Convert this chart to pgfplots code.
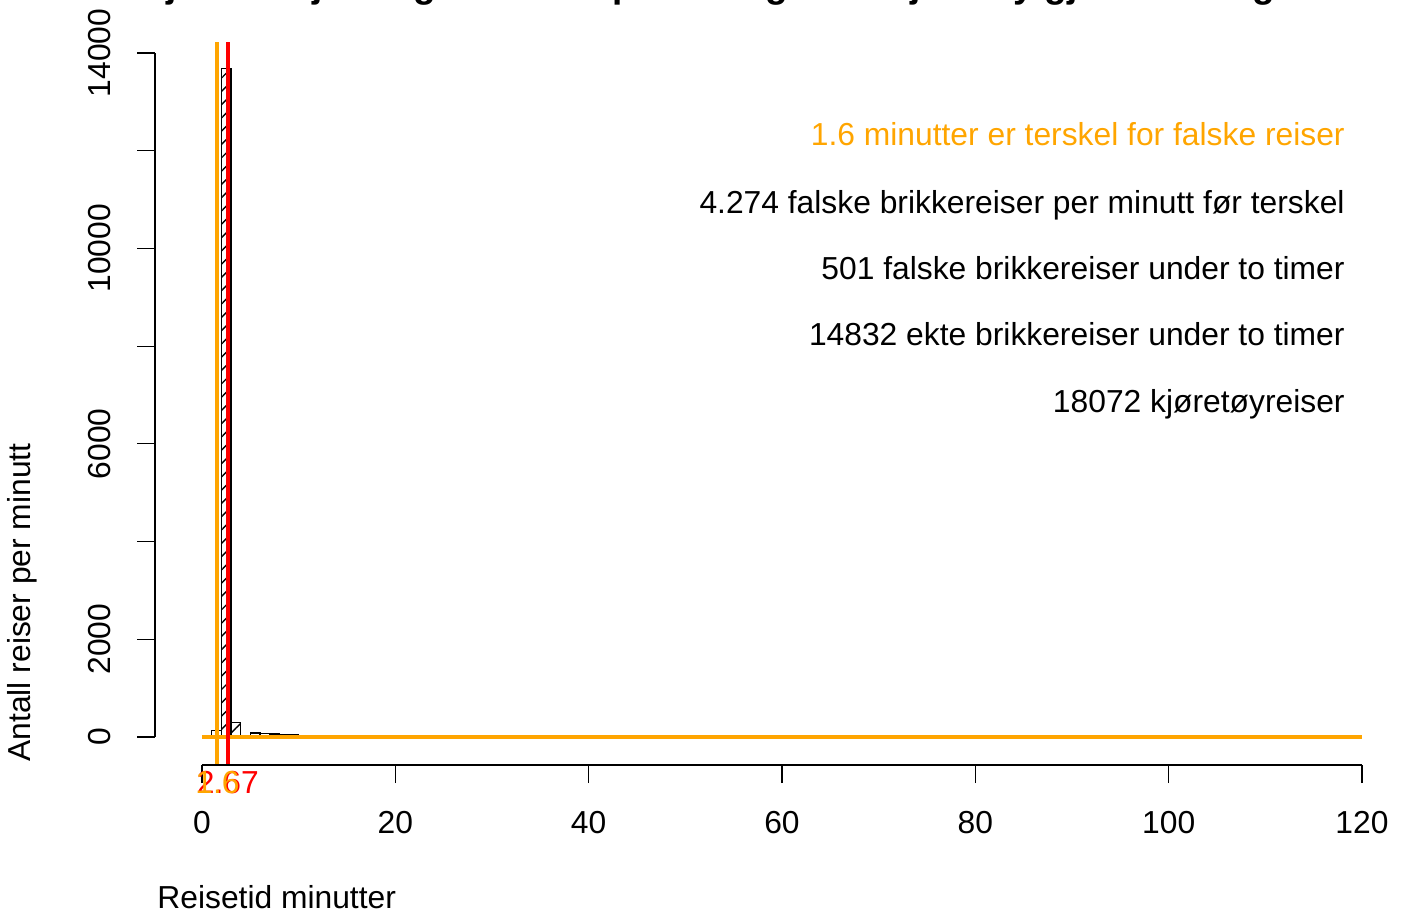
\documentclass[border=0pt]{standalone}
\usepackage{pgfplots}
\pgfplotsset{compat=1.18}
\usepackage{fontspec}
\setmainfont{Liberation Sans}
\usetikzlibrary{patterns.meta}
\definecolor{rorange}{HTML}{FFA500}
\definecolor{rred}{HTML}{FF0000}
\begin{document}
\begin{tikzpicture}[font=\fontsize{15.9pt}{18pt}\selectfont]
\useasboundingbox (0,0) rectangle (701.5pt,455.5pt);
\begin{axis}[
  at={(77.5pt,73pt)}, anchor=south west,
  scale only axis, width=603.5pt, height=361.5pt,
  xmin=-4.86, xmax=120, ymin=-573, ymax=14225,
  axis line style={draw=none},
  clip=false,
  scaled ticks=false,
  xtick={0,20,...,120}, xticklabels={0,20,40,60,80,100,120},
  ytick={0,2000,...,14000}, yticklabels={0,2000,,6000,,10000,,14000},
  xtick pos=left, ytick pos=left,
  tick align=outside, major tick length=9pt,
  tick style={line width=0.6pt, black},
  tick label style={font=\fontsize{15.9pt}{18pt}\selectfont},
  xticklabel style={anchor=north, inner sep=0pt},
  yticklabel style={rotate=90, anchor=south, inner sep=0pt},
  xticklabel shift=14pt, yticklabel shift=13pt,
]
% histogram bars
\addplot[ybar interval, draw=black, line width=0.6pt, fill=none] coordinates {(1,140) (2,140)};
\addplot[ybar interval, draw=black, line width=0.6pt, pattern={Lines[angle=45,distance=4.7pt,line width=0.7pt]}, pattern color=black] coordinates {(2,13680) (3,300) (4,300)};
\addplot[ybar interval, draw=black, line width=0.6pt, fill=none] coordinates {
(4,10) (5,80) (6,75) (7,60) (8,50) (9,42) (10,36) (11,32) (12,28) (13,25) (14,22)
(15,20) (16,18) (17,16) (18,15) (19,14) (20,13) (21,12) (22,11) (23,10) (24,9)
(25,8) (26,7) (27,6) (28,5) (29,5) (30,5)};
% horizontal threshold line
\addplot[rorange, line width=2pt] coordinates {(0,4.274) (120,4.274)};
% vertical lines
\addplot[rred, line width=2pt] coordinates {(2.67,-573) (2.67,14225)};
\addplot[rorange, line width=2pt] coordinates {(1.6,-573) (1.6,14225)};
% R-style axis lines
\draw[line width=0.6pt] (axis cs:0,-573) -- (axis cs:120,-573);
\draw[line width=0.6pt] (axis cs:-4.86,0) -- (axis cs:-4.86,14000);
% value labels under the axis
\node[rred, anchor=base, inner sep=0pt] at (axis cs:2.67,-1158) {2.67};
\node[rorange, anchor=base, inner sep=0pt] at (axis cs:1.6,-1158) {1.6};
% annotations
\node[rorange, anchor=base east, inner sep=0pt] at (axis cs:118.24,12097) {1.6 minutter er terskel for falske reiser};
\node[anchor=base east, inner sep=0pt] at (axis cs:118.24,10725) {4.274 falske brikkereiser per minutt før terskel};
\node[anchor=base east, inner sep=0pt] at (axis cs:118.24,9354) {501 falske brikkereiser under to timer};
\node[anchor=base east, inner sep=0pt] at (axis cs:118.24,8003) {14832 ekte brikkereiser under to timer};
\node[anchor=base east, inner sep=0pt] at (axis cs:118.24,6632) {18072 kjøretøyreiser};
\end{axis}
\node[font=\fontsize{18.5pt}{22pt}\selectfont\bfseries, anchor=base, inner sep=0pt] at (365pt,456.5pt) {Sjekk av fjerning av falske passeringer fra kjøretøy gjennom dagen};
\node[rotate=90, anchor=base west, inner sep=0pt] at (15pt,74.5pt) {Antall reiser per minutt};
\node[anchor=base west, inner sep=0pt] at (78.5pt,1.5pt) {Reisetid minutter};
\end{tikzpicture}
\end{document}
